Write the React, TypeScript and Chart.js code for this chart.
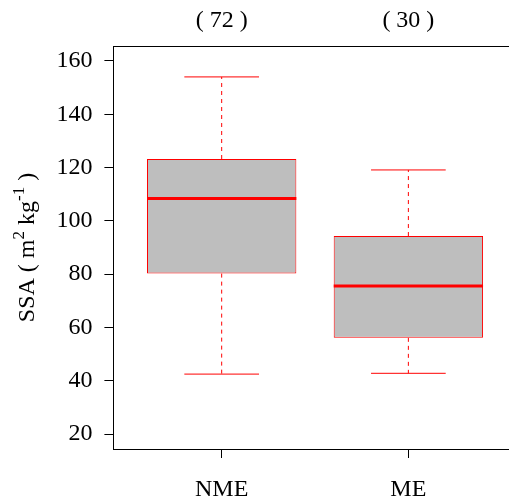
import React, { useEffect, useRef } from 'react';
import { Chart, registerables } from 'chart.js';

Chart.register(...registerables);

// ---- data ----
const categories = ['NME', 'ME'];
const counts = [72, 30];
const whiskerLow = [42.5, 42.8];
const q1 = [80.2, 56.1];
const median = [108.4, 75.6];
const q3 = [123.2, 94.3];
const whiskerHigh = [154.0, 119.1];
const yTicks = [20, 40, 60, 80, 100, 120, 140, 160];

const FONT = "'Liberation Serif', 'Times New Roman', Times, serif";
const RED = '#ff0000';

export default function App() {
  const ref = useRef<HTMLCanvasElement | null>(null);

  useEffect(() => {
    if (!ref.current) return;
    const pos = (i: number) => i + 1;

    const boxData = categories.map((_, i) => ({ x: pos(i), y: [q1[i], q3[i]] }));
    const whiskerData: any[] = [];
    const capData: any[] = [];
    const medData: any[] = [];
    categories.forEach((_, i) => {
      const x = pos(i);
      whiskerData.push({ x, y: q3[i] }, { x, y: whiskerHigh[i] }, { x, y: null });
      whiskerData.push({ x, y: q1[i] }, { x, y: whiskerLow[i] }, { x, y: null });
      capData.push({ x: x - 0.2, y: whiskerHigh[i] }, { x: x + 0.2, y: whiskerHigh[i] }, { x, y: null });
      capData.push({ x: x - 0.2, y: whiskerLow[i] }, { x: x + 0.2, y: whiskerLow[i] }, { x, y: null });
      medData.push({ x: x - 0.4, y: median[i] }, { x: x + 0.4, y: median[i] }, { x, y: null });
    });

    const framePlugin = {
      id: 'frame',
      afterDraw(chart: any) {
        const { ctx, chartArea } = chart;
        ctx.save();
        ctx.strokeStyle = '#000';
        ctx.lineWidth = 1;
        ctx.beginPath();
        ctx.moveTo(chartArea.left, Math.round(chartArea.top) + 0.5);
        ctx.lineTo(chartArea.right, Math.round(chartArea.top) + 0.5);
        ctx.stroke();

        // counts on top
        const xs = chart.scales.x;
        ctx.fillStyle = '#000';
        ctx.font = `24px ${FONT}`;
        ctx.textAlign = 'center';
        ctx.textBaseline = 'alphabetic';
        counts.forEach((n, i) => {
          ctx.fillText(`( ${n} )`, xs.getPixelForValue(pos(i)), 26.5);
        });

        // y title with superscripts
        const parts: [string, boolean][] = [
          ['SSA ( m', false],
          ['2', true],
          [' kg', false],
          ['-1', true],
          [' )', false],
        ];
        const normal = `24px ${FONT}`;
        const sup = `17px ${FONT}`;
        let total = 0;
        parts.forEach(([t, s]) => {
          ctx.font = s ? sup : normal;
          total += ctx.measureText(t).width;
        });
        ctx.translate(34, (chartArea.top + chartArea.bottom) / 2);
        ctx.rotate(-Math.PI / 2);
        ctx.textAlign = 'left';
        let cx = -total / 2;
        parts.forEach(([t, s]) => {
          ctx.font = s ? sup : normal;
          ctx.fillText(t, cx, s ? -10 : 0);
          cx += ctx.measureText(t).width;
        });
        ctx.restore();
      },
    };

    const chart = new Chart(ref.current, {
      type: 'bar',
      data: {
        datasets: [
          {
            type: 'line',
            data: medData,
            borderColor: RED,
            borderWidth: 3,
            pointRadius: 0,
            spanGaps: false,
            borderCapStyle: 'butt',
            order: 1,
          } as any,
          {
            type: 'line',
            data: capData,
            borderColor: RED,
            borderWidth: 1,
            pointRadius: 0,
            spanGaps: false,
            order: 2,
          } as any,
          {
            type: 'line',
            data: whiskerData,
            borderColor: RED,
            borderWidth: 1,
            borderDash: [4, 4],
            pointRadius: 0,
            spanGaps: false,
            order: 3,
          } as any,
          {
            type: 'bar',
            data: boxData as any,
            backgroundColor: '#bebebe',
            borderColor: RED,
            borderWidth: 1,
            borderSkipped: false,
            inflateAmount: 0,
            categoryPercentage: 0.8,
            barPercentage: 1,
            order: 4,
          } as any,
        ],
      },
      options: {
        responsive: false,
        animation: false,
        devicePixelRatio: 1,
        layout: { padding: { top: 46, right: 0, bottom: 0, left: 0 } },
        plugins: { legend: { display: false }, tooltip: { enabled: false } },
        scales: {
          x: {
            type: 'linear',
            min: 0.42,
            max: 2.539,
            offset: false,
            grid: { display: true, drawOnChartArea: false, drawTicks: true, tickLength: 9, color: '#000', offset: false },
            border: { display: true, color: '#000', width: 1 },
            afterBuildTicks: (scale: any) => {
              scale.ticks = categories.map((_, i) => ({ value: pos(i) }));
            },
            afterFit: (scale: any) => {
              scale.height = 54;
            },
            ticks: {
              autoSkip: false,
              maxRotation: 0,
              padding: 17,
              color: '#000',
              font: { family: FONT, size: 24 },
              callback: (v: any) => categories[Math.round(Number(v)) - 1] ?? '',
            },
          },
          y: {
            type: 'linear',
            min: 14.4,
            max: 165.6,
            grid: { display: true, drawOnChartArea: false, drawTicks: true, tickLength: 9, color: '#000' },
            border: { display: true, color: '#000', width: 1 },
            afterBuildTicks: (scale: any) => {
              scale.ticks = yTicks.map((v) => ({ value: v }));
            },
            afterFit: (scale: any) => {
              scale.width = 113.4;
            },
            ticks: {
              padding: 12,
              color: '#000',
              font: { family: FONT, size: 24 },
              callback: (v: any) => String(v),
            },
          },
        },
      } as any,
      plugins: [framePlugin],
    });
    return () => chart.destroy();
  }, []);

  return (
    <canvas
      ref={ref}
      width={509}
      height={503}
      style={{ position: 'absolute', left: 0, top: 0, display: 'block', width: 509, height: 503 }}
    />
  );
}
